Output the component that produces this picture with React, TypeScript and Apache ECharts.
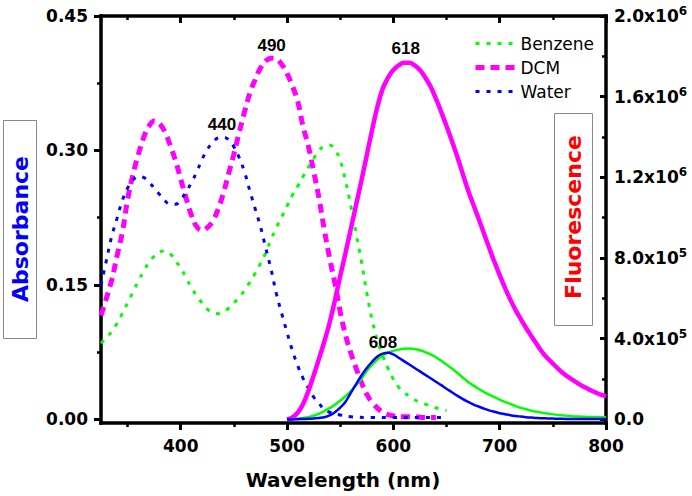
import React, { useEffect, useRef } from 'react';
import * as echarts from 'echarts';

// ---------- data ----------
const benzeneAbsNm = [325, 330, 335, 340, 345, 350, 355, 360, 365, 370, 375, 380, 385, 390, 395, 400, 405, 410, 415, 420, 425, 430, 435, 440, 445, 450, 455, 460, 465, 470, 475, 480, 485, 490, 495, 500, 505, 510, 515, 520, 525, 530, 535, 540, 545, 550, 555, 560, 565, 570, 575, 580, 585, 590, 595, 600, 605, 610, 615, 620, 625, 630, 635, 640, 645, 650];
const benzeneAbs = [0.085, 0.091, 0.098, 0.107, 0.118, 0.130, 0.142, 0.154, 0.165, 0.175, 0.182, 0.187, 0.188, 0.185, 0.177, 0.169, 0.158, 0.147, 0.138, 0.130, 0.123, 0.119, 0.118, 0.120, 0.124, 0.130, 0.136, 0.144, 0.153, 0.163, 0.174, 0.186, 0.201, 0.214, 0.226, 0.238, 0.250, 0.260, 0.271, 0.281, 0.291, 0.300, 0.305, 0.306, 0.301, 0.289, 0.266, 0.238, 0.207, 0.176, 0.141, 0.111, 0.088, 0.071, 0.057, 0.045, 0.036, 0.030, 0.026, 0.022, 0.019, 0.017, 0.015, 0.013, 0.011, 0.010];

const dcmAbsNm = [325, 330, 335, 340, 345, 350, 355, 360, 365, 370, 375, 380, 385, 390, 395, 400, 405, 410, 415, 420, 425, 430, 435, 440, 445, 450, 455, 460, 465, 470, 475, 480, 485, 490, 495, 500, 505, 510, 515, 520, 525, 530, 535, 540, 545, 550, 555, 560, 565, 570, 575, 580, 590, 600, 610, 620, 630, 640];
const dcmAbs = [0.116, 0.135, 0.155, 0.182, 0.208, 0.245, 0.273, 0.295, 0.314, 0.327, 0.333, 0.330, 0.321, 0.306, 0.289, 0.268, 0.247, 0.228, 0.215, 0.211, 0.214, 0.221, 0.234, 0.252, 0.274, 0.296, 0.320, 0.343, 0.364, 0.379, 0.392, 0.400, 0.403, 0.402, 0.396, 0.386, 0.372, 0.355, 0.327, 0.305, 0.277, 0.247, 0.212, 0.180, 0.152, 0.120, 0.094, 0.074, 0.057, 0.041, 0.028, 0.019, 0.008, 0.004, 0.003, 0.003, 0.002, 0.002];

const waterAbsNm = [325, 330, 335, 340, 345, 350, 355, 360, 365, 370, 375, 380, 385, 390, 395, 400, 405, 410, 415, 420, 425, 430, 435, 440, 445, 450, 455, 460, 465, 470, 475, 480, 485, 490, 495, 500, 505, 510, 515, 520, 525, 530, 535, 540, 550, 560, 580, 600, 620, 650];
const waterAbs = [0.150, 0.177, 0.204, 0.224, 0.244, 0.258, 0.267, 0.271, 0.270, 0.265, 0.258, 0.251, 0.244, 0.240, 0.240, 0.245, 0.254, 0.264, 0.276, 0.290, 0.301, 0.309, 0.314, 0.315, 0.312, 0.304, 0.292, 0.276, 0.255, 0.235, 0.215, 0.191, 0.167, 0.140, 0.118, 0.097, 0.077, 0.060, 0.046, 0.035, 0.025, 0.018, 0.011, 0.008, 0.005, 0.003, 0.002, 0.002, 0.002, 0.002];

// fluorescence: wavelength grid and intensities in units of 10^3
const flNm = [500, 505, 510, 515, 520, 525, 530, 535, 540, 545, 550, 555, 560, 565, 570, 575, 580, 585, 590, 595, 600, 605, 610, 615, 620, 625, 630, 635, 640, 645, 650, 655, 660, 665, 670, 675, 680, 685, 690, 695, 700, 705, 710, 715, 720, 725, 730, 735, 740, 745, 750, 755, 760, 765, 770, 775, 780, 785, 790, 795, 800];
const dcmFl = [0, 10, 33, 75, 140, 218, 300, 385, 478, 590, 710, 826, 945, 1065, 1185, 1310, 1435, 1550, 1640, 1695, 1732, 1755, 1768, 1768, 1755, 1732, 1695, 1650, 1590, 1525, 1455, 1382, 1305, 1222, 1140, 1068, 998, 925, 852, 782, 715, 652, 594, 542, 496, 452, 411, 372, 334, 303, 277, 251, 228, 208, 191, 174, 159, 146, 134, 123, 115];
const benzeneFl = [0, 1, 4, 7, 11, 18, 28, 41, 56, 73, 93, 115, 140, 170, 203, 240, 271, 297, 318, 331, 340, 346, 350, 351, 349, 343, 334, 322, 308, 291, 272, 252, 231, 209, 187, 169, 152, 137, 123, 110, 98, 87, 77, 66, 57, 50, 43, 38, 33, 29, 25, 22, 20, 17, 15, 14, 13, 12, 12, 11, 11];
const waterFl = [0, 0, 1, 2, 3, 4, 7, 11, 20, 36, 58, 88, 132, 175, 218, 255, 286, 312, 326, 330, 322, 306, 289, 272, 255, 238, 221, 204, 187, 170, 152, 135, 118, 102, 88, 75, 64, 54, 45, 38, 31, 26, 21, 17, 14, 11, 9, 7, 6, 5, 4, 3, 3, 2, 2, 2, 2, 2, 2, 2, 2];

const legendNames = ['Benzene', 'DCM', 'Water'];
const xMajorTicks = [400, 500, 600, 700, 800];
const xMinorTicks = [350, 450, 550, 650, 750];
const absMajorTicks = [0, 0.15, 0.3, 0.45];
const absMinorTicks = [0.075, 0.225, 0.375];
const flMajorTicks = [0, 400, 800, 1200, 1600, 2000];
const flMinorTicks = [200, 600, 1000, 1400, 1800];

// peak annotations: [text, wavelength, value]
const dcmAbsPeak: [string, number, number] = ['490', 485.5, 0.4176];
const waterAbsPeak: [string, number, number] = ['440', 438.8, 0.329];
const dcmFlPeak: [string, number, number] = ['618', 611.6, 1841];
const waterFlPeak: [string, number, number] = ['608', 590.2, 383.6];

const X_MIN = 325;
const X_MAX = 800;
const ABS_MIN = -0.004;
const ABS_MAX = 0.45;
const FL_MAX = 2000;
const FL_MIN = (ABS_MIN / ABS_MAX) * FL_MAX;

const zip = (xs: number[], ys: number[]) => xs.map((x, i) => [x, ys[i]]);

const tickFont = { fontFamily: 'DejaVu Sans', fontWeight: 'bold' as const, fontSize: 17, color: '#000' };
const axisLineStyle = { color: '#000', width: 3.5, cap: 'square' as const };

const peakMark = (p: [string, number, number]) => ({
  symbol: 'circle',
  symbolSize: 1,
  itemStyle: { color: 'rgba(0,0,0,0)' },
  label: {
    show: true,
    position: 'inside',
    formatter: p[0],
    fontFamily: 'Liberation Sans',
    fontWeight: 'bold',
    fontSize: 17,
    color: '#000',
  },
  data: [{ coord: [p[1], p[2]] }],
});

const flLabel = (v: number) => {
  if (v === 0) return '{b|0.0}';
  const real = v * 1000;
  const exp = Math.floor(Math.log10(real) + 1e-9);
  const mant = (real / Math.pow(10, exp)).toFixed(1);
  return `{b|${mant}x10}{s|${exp}}`;
};

const option: any = {
  animation: false,
  backgroundColor: '#fff',
  grid: { left: 101, right: 86, top: 16, bottom: 73 },
  legend: {
    data: legendNames,
    orient: 'vertical',
    left: 468,
    top: 30,
    itemWidth: 40,
    itemHeight: 14,
    itemGap: 7,
    selectedMode: false,
    itemStyle: { opacity: 0 },
    lineStyle: { width: 'inherit' },
    textStyle: { fontFamily: 'DejaVu Sans', fontSize: 17, color: '#000' },
  },
  xAxis: [
    {
      type: 'value', min: X_MIN, max: X_MAX, position: 'bottom',
      axisLine: { onZero: false, lineStyle: axisLineStyle },
      axisTick: { customValues: xMajorTicks, length: 7, lineStyle: { width: 3, color: '#000' } },
      axisLabel: { customValues: xMajorTicks, margin: 14, ...tickFont },
      splitLine: { show: false },
    },
    {
      type: 'value', min: X_MIN, max: X_MAX, position: 'bottom',
      axisLine: { show: false, onZero: false },
      axisTick: { customValues: xMinorTicks, length: 4, lineStyle: { width: 2.5, color: '#000' } },
      axisLabel: { show: false },
      splitLine: { show: false },
    },
    {
      type: 'value', min: X_MIN, max: X_MAX, position: 'top',
      axisLine: { onZero: false, lineStyle: axisLineStyle },
      axisTick: { inside: true, customValues: xMajorTicks, length: 7, lineStyle: { width: 3, color: '#000' } },
      axisLabel: { show: false },
      splitLine: { show: false },
    },
    {
      type: 'value', min: X_MIN, max: X_MAX, position: 'top',
      axisLine: { show: false, onZero: false },
      axisTick: { inside: true, customValues: xMinorTicks, length: 4, lineStyle: { width: 2.5, color: '#000' } },
      axisLabel: { show: false },
      splitLine: { show: false },
    },
  ],
  yAxis: [
    {
      type: 'value', min: ABS_MIN, max: ABS_MAX, position: 'left',
      axisLine: { show: true, onZero: false, lineStyle: axisLineStyle },
      axisTick: { show: true, customValues: absMajorTicks, length: 7, lineStyle: { width: 3, color: '#000' } },
      axisLabel: { customValues: absMajorTicks, margin: 13, formatter: (v: number) => v.toFixed(2), ...tickFont },
      splitLine: { show: false },
    },
    {
      type: 'value', min: FL_MIN, max: FL_MAX, position: 'right',
      axisLine: { show: true, onZero: false, lineStyle: axisLineStyle },
      axisTick: { show: true, inside: true, customValues: flMajorTicks, length: 6, lineStyle: { width: 3, color: '#000' } },
      axisLabel: {
        customValues: flMajorTicks,
        margin: 8,
        formatter: flLabel,
        rich: {
          b: { ...tickFont, lineHeight: 22 },
          s: { fontFamily: 'DejaVu Sans', fontWeight: 'bold', fontSize: 12, color: '#000', verticalAlign: 'top', lineHeight: 14 },
        },
      },
      splitLine: { show: false },
    },
    {
      type: 'value', min: ABS_MIN, max: ABS_MAX, position: 'left',
      axisLine: { show: false, onZero: false },
      axisTick: { show: true, customValues: absMinorTicks, length: 4, lineStyle: { width: 2.5, color: '#000' } },
      axisLabel: { show: false },
      splitLine: { show: false },
    },
    {
      type: 'value', min: FL_MIN, max: FL_MAX, position: 'right',
      axisLine: { show: false, onZero: false },
      axisTick: { show: true, inside: true, customValues: flMinorTicks, length: 4, lineStyle: { width: 2.5, color: '#000' } },
      axisLabel: { show: false },
      splitLine: { show: false },
    },
  ],
  series: [
    {
      name: 'Benzene', type: 'line', xAxisIndex: 0, yAxisIndex: 0, symbol: 'none', smooth: 0.4,
      data: zip(benzeneAbsNm, benzeneAbs),
      itemStyle: { color: '#00ff00' },
      lineStyle: { color: '#00ff00', width: 3, type: [4, 7] },
    },
    {
      name: 'DCM', type: 'line', xAxisIndex: 0, yAxisIndex: 0, symbol: 'none', smooth: 0.4,
      data: zip(dcmAbsNm, dcmAbs),
      itemStyle: { color: '#ff00ff' },
      lineStyle: { color: '#ff00ff', width: 5, type: [9, 6] },
      markPoint: peakMark(dcmAbsPeak),
    },
    {
      name: 'Water', type: 'line', xAxisIndex: 0, yAxisIndex: 0, symbol: 'none', smooth: 0.4,
      data: zip(waterAbsNm, waterAbs),
      itemStyle: { color: '#0000ff' },
      lineStyle: { color: '#0000ff', width: 3, type: [4, 7] },
      markPoint: peakMark(waterAbsPeak),
    },
    {
      name: 'Benzene fluorescence', type: 'line', xAxisIndex: 0, yAxisIndex: 1, symbol: 'none', smooth: 0.4,
      data: zip(flNm, benzeneFl),
      itemStyle: { color: '#00ff00' },
      lineStyle: { color: '#00ff00', width: 2.5 },
    },
    {
      name: 'DCM fluorescence', type: 'line', xAxisIndex: 0, yAxisIndex: 1, symbol: 'none', smooth: 0.4,
      data: zip(flNm, dcmFl),
      itemStyle: { color: '#ff00ff' },
      lineStyle: { color: '#ff00ff', width: 4.5 },
      markPoint: peakMark(dcmFlPeak),
    },
    {
      name: 'Water fluorescence', type: 'line', xAxisIndex: 0, yAxisIndex: 1, symbol: 'none', smooth: 0.4,
      data: zip(flNm, waterFl),
      itemStyle: { color: '#0000ff' },
      lineStyle: { color: '#0000ff', width: 2.5 },
      markPoint: peakMark(waterFlPeak),
    },
  ],
  graphic: [
    {
      type: 'rect', left: 3, top: 120, z: 10,
      shape: { width: 33, height: 218 },
      style: { fill: '#fff', stroke: '#888', lineWidth: 1 },
    },
    {
      type: 'text', x: 20, y: 229, rotation: Math.PI / 2, z: 11,
      style: { text: 'Absorbance', fill: '#0000ff', font: 'bold 22px "DejaVu Sans"', align: 'center', verticalAlign: 'middle' },
    },
    {
      type: 'rect', left: 554, top: 113, z: 10,
      shape: { width: 38, height: 212 },
      style: { fill: '#fff', stroke: '#888', lineWidth: 1 },
    },
    {
      type: 'text', x: 573, y: 217, rotation: Math.PI / 2, z: 11,
      style: { text: 'Fluorescence', fill: '#ff0000', font: 'bold 22px "DejaVu Sans"', align: 'center', verticalAlign: 'middle' },
    },
    {
      type: 'text', x: 343, y: 480, z: 11,
      style: { text: 'Wavelength (nm)', fill: '#000', font: 'bold 20px "DejaVu Sans"', align: 'center', verticalAlign: 'middle' },
    },
  ],
};

export default function App() {
  const ref = useRef<HTMLDivElement>(null);
  useEffect(() => {
    const chart = echarts.init(ref.current!, null, { renderer: 'svg' });
    chart.setOption(option);
    return () => chart.dispose();
  }, []);
  return <div ref={ref} style={{ position: 'absolute', left: 0, top: 0, width: 692, height: 496 }} />;
}
